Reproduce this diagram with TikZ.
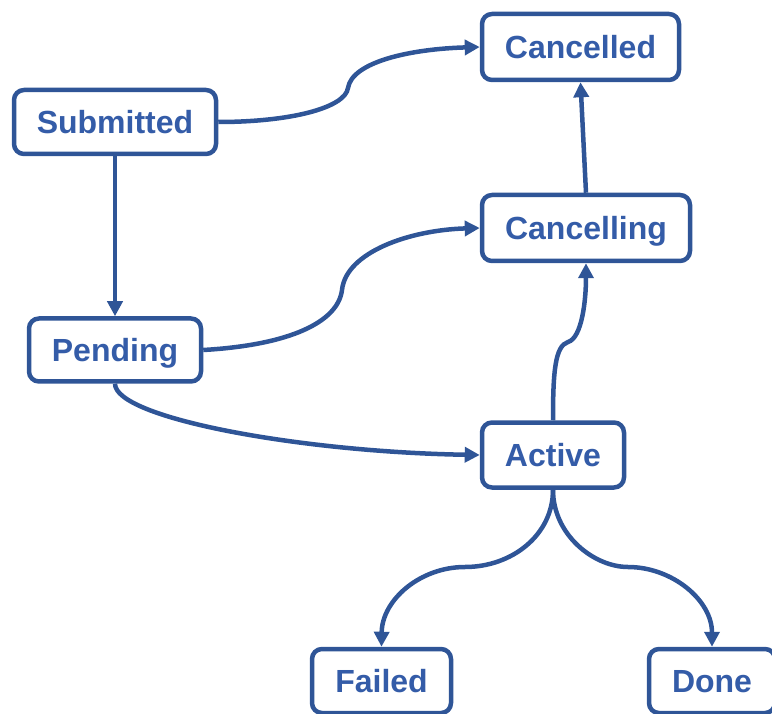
\documentclass[tikz,border=0pt]{standalone}
\usepackage{fontspec}
\setmainfont{Liberation Sans}
\usetikzlibrary{arrows.meta}
\definecolor{sblue}{RGB}{47,85,151}
\definecolor{tblue}{RGB}{52,92,168}
\begin{document}
\begin{tikzpicture}[x=1pt,y=-1pt,
  state/.style={draw=sblue, line width=4.5pt, rounded corners=10pt, fill=white,
    inner sep=0pt, text=tblue, text height=23pt, text depth=0pt,
    font=\fontsize{32}{36}\selectfont\bfseries},
  link/.style={draw=sblue, line width=4.5pt, -{Triangle[length=15pt,width=15pt]}}]
\useasboundingbox (0,0) rectangle (772,714);
\node[state, minimum width=202pt, minimum height=64pt] (sub) at (115,122) {Submitted};
\node[state, minimum width=197pt, minimum height=66pt] (can) at (580.5,47) {Cancelled};
\node[state, minimum width=208pt, minimum height=66pt] (cing) at (586,228) {Cancelling};
\node[state, minimum width=172pt, minimum height=63pt] (pen) at (115,350) {Pending};
\node[state, minimum width=142pt, minimum height=65pt] (act) at (553,455) {Active};
\node[state, minimum width=139pt, minimum height=64pt] (fail) at (381.5,681) {Failed};
\node[state, minimum width=126pt, minimum height=64pt] (done) at (712,681) {Done};
\coordinate (m1) at (348,88);
\coordinate (m3) at (342,290);
\coordinate (m5) at (568,342);
\coordinate (m7) at (465,567);
\coordinate (m8) at (628,567);
\draw[link] (sub.east) .. controls (290,122) and (345,108) .. (m1) .. controls (352,62) and (410,49) .. (can.west);
\draw[link] (sub.south) -- (pen.north);
\draw[link] (pen.east) .. controls (290,345) and (338,322) .. (m3) .. controls (346,252) and (410,230) .. (cing.west);
\draw[link] (pen.south) .. controls (115,418) and (300,452) .. (act.west);
\draw[link] (act.north) .. controls (553,372) and (555,346) .. (m5) .. controls (582,338) and (586,300) .. (cing.south);
\draw[link] (cing.north) -- (can.south);
\draw[link] (act.south) .. controls (553,535) and (512,567) .. (m7) .. controls (420,567) and (382,600) .. (fail.north);
\draw[link] (act.south) .. controls (553,535) and (594,567) .. (m8) .. controls (672,567) and (712,600) .. (done.north);
\end{tikzpicture}
\end{document}
